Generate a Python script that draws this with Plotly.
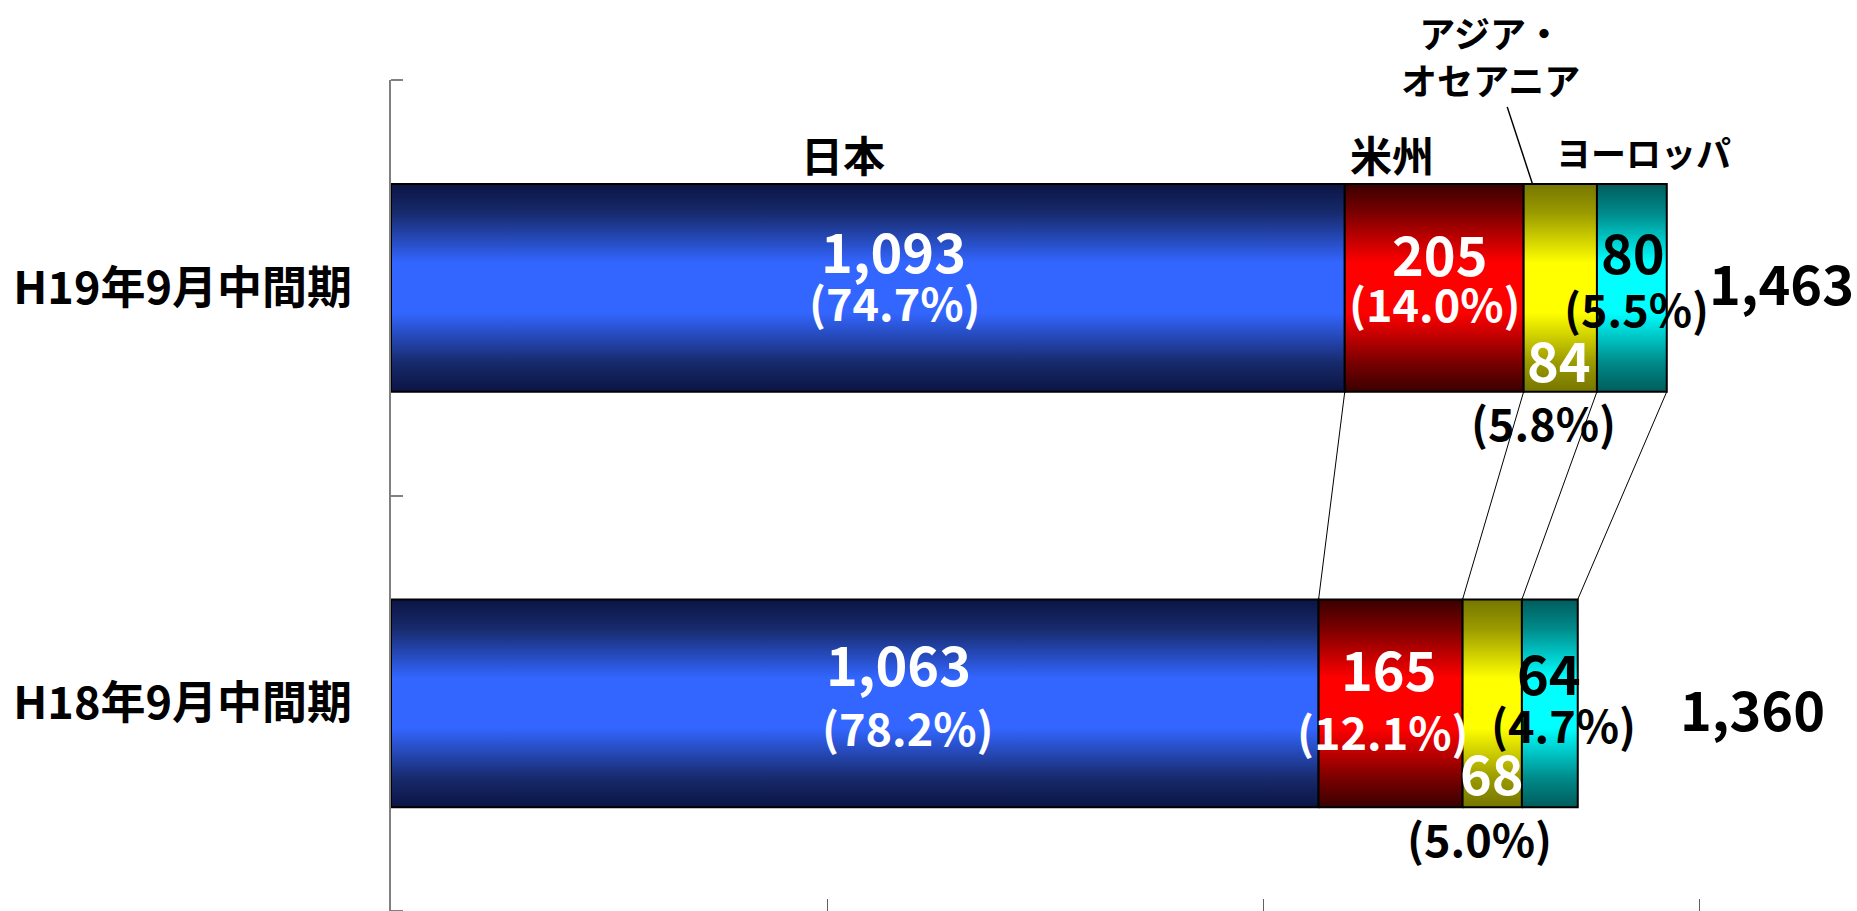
import plotly.graph_objects as go

# ---------------- data ----------------
periods = ["H18年9月中間期", "H19年9月中間期"]          # bottom -> top
region_names = ["日本", "米州", "アジア・オセアニア", "ヨーロッパ"]
japan = [1063, 1093]
americas = [165, 205]
asia_oceania = [68, 84]
europe = [64, 80]
japan_pct = ["78.2", "74.7"]
americas_pct = ["12.1", "14.0"]
asia_pct = ["5.0", "5.8"]
europe_pct = ["4.7", "5.5"]
totals = [1360, 1463]
x_ticks = [0, 500, 1000, 1500]

series = [japan, americas, asia_oceania, europe]
pcts = [japan_pct, americas_pct, asia_pct, europe_pct]

# ---------------- styles ----------------
FONT = "Noto Sans CJK JP, Noto Sans, sans-serif"
VAL_SIZE = 54
PCT_SIZE = 45
BAR_HALF = 0.25


def sym_scale(edge, mid, center):
    return [[0, edge], [0.14, mid], [0.38, center], [0.5, center],
            [0.62, center], [0.86, mid], [1, edge]]


scales = [
    sym_scale("#0b1443", "#172a6c", "#3366ff"),
    sym_scale("#3a0000", "#7a0000", "#ff0000"),
    sym_scale("#767600", "#9a9a00", "#ffff00"),
    sym_scale("#005c5c", "#008a8a", "#00ffff"),
]
val_colors = [
    ["white", "white"],
    ["white", "white"],
    ["white", "white"],
    ["black", "black"],
]
pct_colors = [
    ["white", "white"],
    ["white", "white"],
    ["black", "black"],
    ["black", "black"],
]
# pixel offsets (dx, dy) from the segment centre: value label, percent label
val_off = [
    [(44, 41), (26, 38)],
    [(-2, 36), (6, 35)],
    [(0, -68), (-1, -71)],
    [(-1, 32), (1, 37)],
]
pct_off = [
    [(53, -23), (27, -14)],
    [(-8, -27), (1, -15)],
    [(-13, -134), (-17, -134)],
    [(14, -20), (5, -20)],
]
total_gap = [100, 40]
total_dy = [-4, 6]

# ---------------- figure ----------------
fig = go.Figure()
ypos = [0, 1]

cum = [[0, 0]]
for s in series:
    cum.append([c + v for c, v in zip(cum[-1], s)])

# connector lines between the two bars
cx, cy = [], []
for i in range(1, len(cum)):
    cx += [cum[i][1], cum[i][0], None]
    cy += [ypos[1] - BAR_HALF, ypos[0] + BAR_HALF, None]
fig.add_trace(go.Scatter(x=cx, y=cy, mode="lines",
                         line=dict(color="black", width=1),
                         hoverinfo="skip", showlegend=False))

# gradient bars
for i, s in enumerate(series):
    for p in range(2):
        x0, x1 = cum[i][p], cum[i + 1][p]
        yc = ypos[p]
        fig.add_trace(go.Scatter(
            x=[x0, x1, x1, x0, x0],
            y=[yc - BAR_HALF, yc - BAR_HALF, yc + BAR_HALF, yc + BAR_HALF, yc - BAR_HALF],
            mode="lines", fill="toself",
            fillgradient=dict(type="vertical", colorscale=scales[i]),
            line=dict(color="black", width=2),
            name=region_names[i], hoverinfo="name+x", showlegend=False))

annotations = []


def add_text(text, x, y, dx, dy, size, color, xanchor="center"):
    annotations.append(dict(
        text=text, x=x, y=y, xref="x", yref="y", showarrow=False,
        xshift=dx, yshift=dy, xanchor=xanchor, yanchor="middle",
        font=dict(family=FONT, size=size, color=color, weight="bold")))


for i, s in enumerate(series):
    for p in range(2):
        xc = (cum[i][p] + cum[i + 1][p]) / 2
        dx, dy = val_off[i][p]
        add_text(f"{s[p]:,}", xc, ypos[p], dx, dy, VAL_SIZE, val_colors[i][p])
        dx, dy = pct_off[i][p]
        add_text(f"({pcts[i][p]}%)", xc, ypos[p], dx, dy, PCT_SIZE, pct_colors[i][p])

for p in range(2):
    add_text(f"{totals[p]:,}", cum[-1][p], ypos[p], total_gap[p], total_dy[p],
             VAL_SIZE, "black", xanchor="left")

# region names above the top bar
top = ypos[1] + BAR_HALF
name_off = [(-25, 30), (-42, 30), None, (12, 32)]
name_size = [42, 42, None, 35]
for i in [0, 1, 3]:
    xc = (cum[i][1] + cum[i + 1][1]) / 2
    add_text(region_names[i], xc, top, name_off[i][0], name_off[i][1], name_size[i], "black")

# アジア・オセアニア with leader line
annotations.append(dict(
    text="アジア・<br>オセアニア",
    x=cum[2][1] + 0.12 * asia_oceania[1], y=top, xref="x", yref="y",
    showarrow=True, arrowhead=0, arrowwidth=1.5, arrowcolor="black",
    ax=-42, ay=-128, axref="pixel", ayref="pixel",
    font=dict(family=FONT, size=36, color="black", weight="bold")))

fig.update_layout(
    width=1857, height=911,
    margin=dict(l=391, r=0, t=80, b=0, pad=0),
    paper_bgcolor="white", plot_bgcolor="white",
    showlegend=False,
    annotations=annotations,
    xaxis=dict(range=[0, 1680], tickvals=x_ticks, ticks="inside", ticklen=12,
               tickcolor="#606060", tickwidth=1, showticklabels=False,
               showline=False, showgrid=False, zeroline=False, automargin=False,
               fixedrange=True),
    yaxis=dict(range=[-0.5, 1.5], tickvals=ypos, ticktext=periods, ticks="",
               showline=True, linecolor="#808080", linewidth=2,
               showgrid=False, zeroline=False, automargin=False,
               tickfont=dict(family=FONT, size=45, color="black", weight="bold"),
               ticklabelstandoff=28,
               minor=dict(tickvals=[-0.5, 0.5, 1.5], ticks="inside", ticklen=12,
                          tickcolor="#808080", tickwidth=2, showgrid=False),
               fixedrange=True),
)

fig.write_html("out.html", config={"displayModeBar": False},
               post_script="document.body.style.margin='0px';document.body.style.overflow='hidden';")
